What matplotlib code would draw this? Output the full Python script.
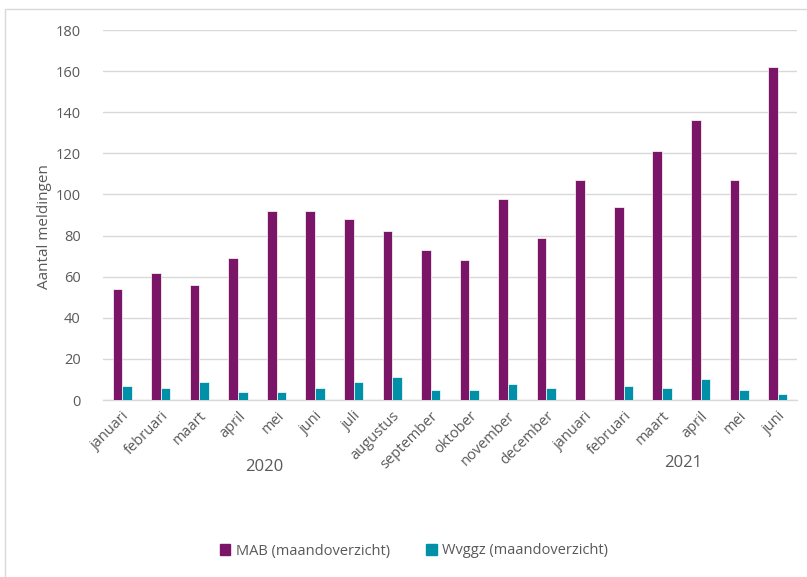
import matplotlib.pyplot as plt
import matplotlib.patches as mpatches
from matplotlib.transforms import blended_transform_factory
import numpy as np

plt.rcParams['font.family'] = ['Open Sans', 'DejaVu Sans']

# Data
months = ['januari', 'februari', 'maart', 'april', 'mei', 'juni', 'juli', 'augustus',
          'september', 'oktober', 'november', 'december',
          'januari', 'februari', 'maart', 'april', 'mei', 'juni']
years = ['2020', '2021']
mab = [54, 62, 56, 69, 92, 92, 88, 82, 73, 68, 98, 79, 107, 94, 121, 136, 107, 162]
wvggz = [7, 6, 9, 4, 4, 6, 9, 11, 5, 5, 8, 6, 0, 7, 6, 10, 5, 3]
series_names = ['MAB (maandoverzicht)', 'Wvggz (maandoverzicht)']

col_mab = '#7b1567'
col_wv = '#0091a9'
txt = '#595959'
grid = '#d9d9d9'

fig = plt.figure(figsize=(8.07, 5.77), dpi=100)
# light chart-area border
fig.patches.append(mpatches.Rectangle((5/807, -0.05), 1.1, 1 - 9/577 + 0.05, transform=fig.transFigure,
                                      fill=False, edgecolor='#d9d9d9', linewidth=1))

ax = fig.add_axes([103/807, 1 - 400/577, 694/807, 370/577])
x = np.arange(len(months))
w = 0.25
ax.bar(x - w/2, mab, width=w, color=col_mab, edgecolor='white', linewidth=0.5, zorder=3, label=series_names[0])
ax.bar(x + w/2, wvggz, width=w, color=col_wv, edgecolor='white', linewidth=0.5, zorder=3, label=series_names[1])

ax.set_xlim(-0.5, len(months) - 0.5)
ax.set_ylim(0, 180)
ax.set_yticks(range(0, 181, 20))
ax.yaxis.grid(True, color=grid, linewidth=1, zorder=0)
ax.set_axisbelow(True)
for s in ['top', 'right', 'left']:
    ax.spines[s].set_visible(False)
ax.spines['bottom'].set_color(grid)
ax.spines['bottom'].set_linewidth(1)
ax.tick_params(axis='both', length=0, colors=txt, labelsize=10.5)
ax.tick_params(axis='y', pad=16)
ax.set_xticks(x)
ax.set_xticklabels(months, rotation=45, ha='right', rotation_mode='anchor', fontsize=10.5, color=txt)
ax.tick_params(axis='x', pad=6)

ax.set_ylabel('Aantal meldingen', fontsize=11, color=txt)
ax.yaxis.set_label_coords(-0.073, 0.47)

# year labels under the month labels
tr = blended_transform_factory(ax.transData, fig.transFigure)
ax.text(3.67, 1 - 467/577, years[0], transform=tr, ha='center', va='center', fontsize=12, color=txt)
ax.text(14.55, 1 - 463/577, years[1], transform=tr, ha='center', va='center', fontsize=12, color=txt)

handles = [mpatches.Patch(color=col_mab), mpatches.Patch(color=col_wv)]
leg = fig.legend(handles, series_names, loc='center', bbox_to_anchor=(414/807, 1 - 551/577), ncol=2,
                 frameon=False, fontsize=10.5, handlelength=0.7, handleheight=0.7, handletextpad=0.4,
                 columnspacing=2.5)
for t in leg.get_texts():
    t.set_color(txt)

plt.savefig('out.png', dpi=100)
